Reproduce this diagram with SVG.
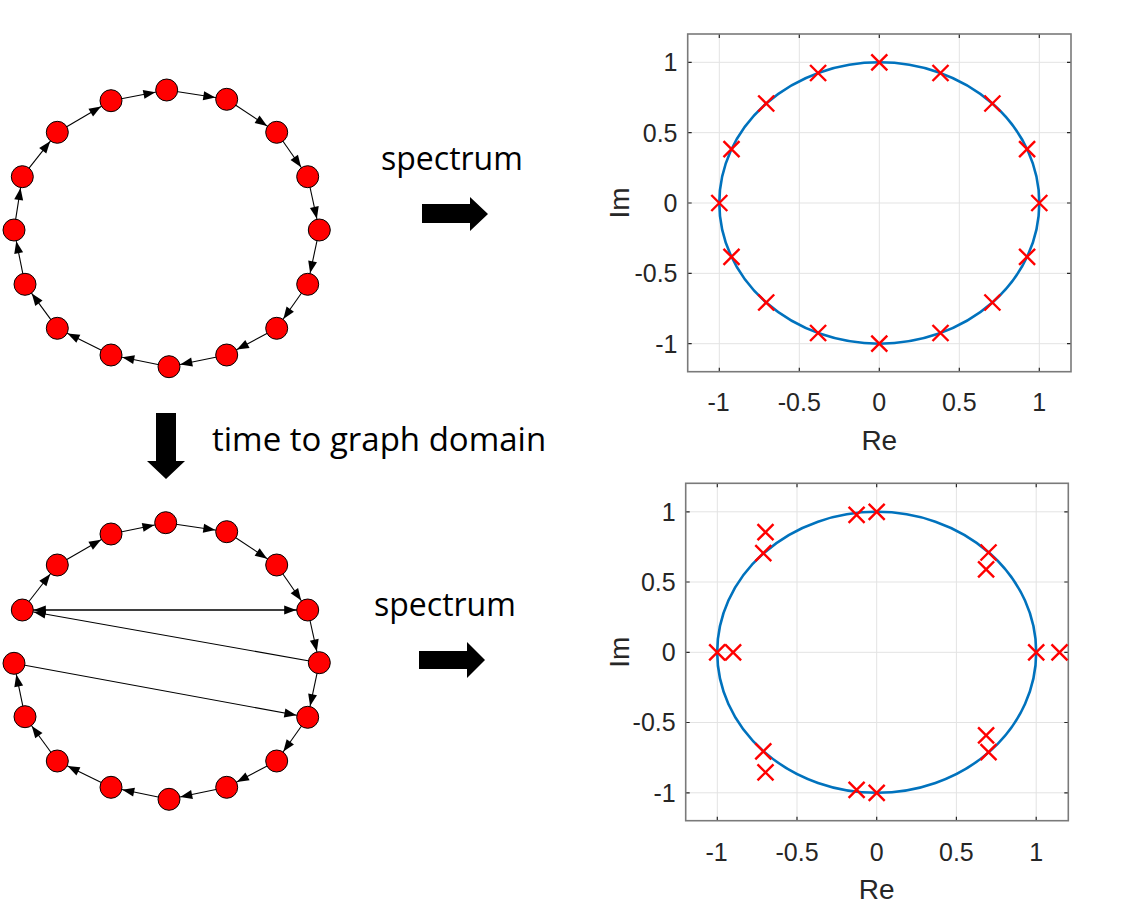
<svg xmlns="http://www.w3.org/2000/svg" width="1121" height="908" viewBox="0 0 1121 908">
<style>
.nd{fill:#ff0000;stroke:#000;stroke-width:1}
.ed{stroke:#000;stroke-width:1.1;fill:none;marker-end:url(#ah)}
.lbl{font-family:"Open Sans","Noto Sans",sans-serif;font-size:32px;fill:#000}
.tk{font-family:"Liberation Sans",Arial,sans-serif;font-size:25px;fill:#262626}
.ax{font-family:"Liberation Sans",Arial,sans-serif;font-size:28px;fill:#262626}
.grid{stroke:#e3e3e3;stroke-width:1}
.box{fill:none;stroke:#7a7a7a;stroke-width:1.6}
.tick{stroke:#262626;stroke-width:1.2}
.uc{fill:none;stroke:#0072BD;stroke-width:2.6}
.xm{stroke:#ff0000;stroke-width:2.4;fill:none}
</style>
<defs>
<marker id="ah" markerUnits="userSpaceOnUse" markerWidth="13" markerHeight="9" refX="23.5" refY="4.5" orient="auto" overflow="visible">
<path d="M0,0 L12,4.5 L0,9 z" fill="#000"/>
</marker>
<path id="x" d="M-8,-8 L8,8 M-8,8 L8,-8"/>
</defs>
<rect width="1121" height="908" fill="#fff"/>

<!-- top graph connectors -->
<g id="edges-top">
<line class="ed" x1="166.7" y1="90" x2="226.7" y2="99.3"/>
<line class="ed" x1="226.7" y1="99.3" x2="276.7" y2="132.3"/>
<line class="ed" x1="276.7" y1="132.3" x2="307.7" y2="176.7"/>
<line class="ed" x1="307.7" y1="176.7" x2="319.3" y2="230"/>
<line class="ed" x1="319.3" y1="230" x2="307.7" y2="284.3"/>
<line class="ed" x1="307.7" y1="284.3" x2="276.7" y2="328.3"/>
<line class="ed" x1="276.7" y1="328.3" x2="226.7" y2="355"/>
<line class="ed" x1="226.7" y1="355" x2="169" y2="366.7"/>
<line class="ed" x1="169" y1="366.7" x2="111" y2="355"/>
<line class="ed" x1="111" y1="355" x2="57.3" y2="328.3"/>
<line class="ed" x1="57.3" y1="328.3" x2="25" y2="284.3"/>
<line class="ed" x1="25" y1="284.3" x2="14" y2="230"/>
<line class="ed" x1="14" y1="230" x2="22.3" y2="176.7"/>
<line class="ed" x1="22.3" y1="176.7" x2="57.3" y2="132.3"/>
<line class="ed" x1="57.3" y1="132.3" x2="111" y2="100.7"/>
<line class="ed" x1="111" y1="100.7" x2="166.7" y2="90"/>
</g>

<!-- bottom graph connectors -->
<g id="edges-bottom">
<line class="ed" x1="165.7" y1="522.7" x2="226.7" y2="531.7"/>
<line class="ed" x1="226.7" y1="531.7" x2="276.7" y2="565"/>
<line class="ed" x1="276.7" y1="565" x2="307.7" y2="610"/>
<line class="ed" x1="307.7" y1="610" x2="319.3" y2="662.7"/>
<line class="ed" x1="319.3" y1="662.7" x2="307.7" y2="717.3"/>
<line class="ed" x1="307.7" y1="717.3" x2="276.7" y2="761"/>
<line class="ed" x1="276.7" y1="761" x2="226.7" y2="787.3"/>
<line class="ed" x1="226.7" y1="787.3" x2="169" y2="799.3"/>
<line class="ed" x1="169" y1="799.3" x2="111" y2="787.3"/>
<line class="ed" x1="111" y1="787.3" x2="57.3" y2="761"/>
<line class="ed" x1="57.3" y1="761" x2="25" y2="716.7"/>
<line class="ed" x1="25" y1="716.7" x2="14" y2="663.3"/>
<line class="ed" x1="22.3" y1="610" x2="57.3" y2="565"/>
<line class="ed" x1="57.3" y1="565" x2="111" y2="534"/>
<line class="ed" x1="111" y1="534" x2="165.7" y2="522.7"/>
<line class="ed" x1="22.3" y1="610" x2="307.7" y2="610"/>
<line class="ed" x1="307.7" y1="610" x2="22.3" y2="610"/>
<line class="ed" x1="319.3" y1="662.7" x2="22.3" y2="610"/>
<line class="ed" x1="14" y1="663.3" x2="307.7" y2="717.3"/>
</g>

<!-- top graph nodes -->
<g id="t1"><circle class="nd" cx="166.7" cy="90" r="11"/></g>
<g id="t2"><circle class="nd" cx="226.7" cy="99.3" r="11"/></g>
<g id="t3"><circle class="nd" cx="276.7" cy="132.3" r="11"/></g>
<g id="t4"><circle class="nd" cx="307.7" cy="176.7" r="11"/></g>
<g id="t5"><circle class="nd" cx="319.3" cy="230" r="11"/></g>
<g id="t6"><circle class="nd" cx="307.7" cy="284.3" r="11"/></g>
<g id="t7"><circle class="nd" cx="276.7" cy="328.3" r="11"/></g>
<g id="t8"><circle class="nd" cx="226.7" cy="355" r="11"/></g>
<g id="t9"><circle class="nd" cx="169" cy="366.7" r="11"/></g>
<g id="t10"><circle class="nd" cx="111" cy="355" r="11"/></g>
<g id="t11"><circle class="nd" cx="57.3" cy="328.3" r="11"/></g>
<g id="t12"><circle class="nd" cx="25" cy="284.3" r="11"/></g>
<g id="t13"><circle class="nd" cx="14" cy="230" r="11"/></g>
<g id="t14"><circle class="nd" cx="22.3" cy="176.7" r="11"/></g>
<g id="t15"><circle class="nd" cx="57.3" cy="132.3" r="11"/></g>
<g id="t16"><circle class="nd" cx="111" cy="100.7" r="11"/></g>

<!-- bottom graph nodes -->
<g id="b1"><circle class="nd" cx="165.7" cy="522.7" r="11"/></g>
<g id="b2"><circle class="nd" cx="226.7" cy="531.7" r="11"/></g>
<g id="b3"><circle class="nd" cx="276.7" cy="565" r="11"/></g>
<g id="b4"><circle class="nd" cx="307.7" cy="610" r="11"/></g>
<g id="b5"><circle class="nd" cx="319.3" cy="662.7" r="11"/></g>
<g id="b6"><circle class="nd" cx="307.7" cy="717.3" r="11"/></g>
<g id="b7"><circle class="nd" cx="276.7" cy="761" r="11"/></g>
<g id="b8"><circle class="nd" cx="226.7" cy="787.3" r="11"/></g>
<g id="b9"><circle class="nd" cx="169" cy="799.3" r="11"/></g>
<g id="b10"><circle class="nd" cx="111" cy="787.3" r="11"/></g>
<g id="b11"><circle class="nd" cx="57.3" cy="761" r="11"/></g>
<g id="b12"><circle class="nd" cx="25" cy="716.7" r="11"/></g>
<g id="b13"><circle class="nd" cx="14" cy="663.3" r="11"/></g>
<g id="b14"><circle class="nd" cx="22.3" cy="610" r="11"/></g>
<g id="b15"><circle class="nd" cx="57.3" cy="565" r="11"/></g>
<g id="b16"><circle class="nd" cx="111" cy="534" r="11"/></g>

<!-- labels and block arrows -->
<g id="label-spectrum-top">
<text class="lbl" x="381" y="169.5">spectrum</text>
<path d="M422,204 H470 V197 L488,214 L470,231 V223 H422 z" fill="#000"/>
</g>
<g id="label-time">
<path d="M156,413 H176 V461 H185 L166,479 L147,461 H156 z" fill="#000"/>
<text class="lbl" x="212" y="451" style="font-size:33px">time to graph domain</text>
</g>
<g id="label-spectrum-bottom">
<text class="lbl" x="374" y="615.5">spectrum</text>
<path d="M419,651 H467 V642 L485,660 L467,678 V669 H419 z" fill="#000"/>
</g>

<!-- top plot -->
<g id="plot-top">
<g class="grid">
<line x1="719.3" y1="34" x2="719.3" y2="371.7"/>
<line x1="799.3" y1="34" x2="799.3" y2="371.7"/>
<line x1="879.3" y1="34" x2="879.3" y2="371.7"/>
<line x1="959.3" y1="34" x2="959.3" y2="371.7"/>
<line x1="1039.3" y1="34" x2="1039.3" y2="371.7"/>
<line x1="687.7" y1="62.3" x2="1071" y2="62.3"/>
<line x1="687.7" y1="132.65" x2="1071" y2="132.65"/>
<line x1="687.7" y1="203" x2="1071" y2="203"/>
<line x1="687.7" y1="273.35" x2="1071" y2="273.35"/>
<line x1="687.7" y1="343.7" x2="1071" y2="343.7"/>
</g>
<g class="tick">
<path d="M719.3,371.7 v-4 M799.3,371.7 v-4 M879.3,371.7 v-4 M959.3,371.7 v-4 M1039.3,371.7 v-4 M719.3,34 v4 M799.3,34 v4 M879.3,34 v4 M959.3,34 v4 M1039.3,34 v4 M687.7,62.3 h4 M687.7,132.65 h4 M687.7,203 h4 M687.7,273.35 h4 M687.7,343.7 h4 M1071,62.3 h-4 M1071,132.65 h-4 M1071,203 h-4 M1071,273.35 h-4 M1071,343.7 h-4"/>
</g>
<rect class="box" x="687.7" y="34" width="383.3" height="337.7"/>
<ellipse class="uc" cx="879.3" cy="203" rx="160" ry="140.7"/>
<g class="xm" transform="translate(879.3,203)">
<use href="#x" x="160" y="0"/>
<use href="#x" x="147.8" y="-53.8"/>
<use href="#x" x="113.1" y="-99.5"/>
<use href="#x" x="61.2" y="-130"/>
<use href="#x" x="0" y="-140.7"/>
<use href="#x" x="-61.2" y="-130"/>
<use href="#x" x="-113.1" y="-99.5"/>
<use href="#x" x="-147.8" y="-53.8"/>
<use href="#x" x="-160" y="0"/>
<use href="#x" x="-147.8" y="53.8"/>
<use href="#x" x="-113.1" y="99.5"/>
<use href="#x" x="-61.2" y="130"/>
<use href="#x" x="0" y="140.7"/>
<use href="#x" x="61.2" y="130"/>
<use href="#x" x="113.1" y="99.5"/>
<use href="#x" x="147.8" y="53.8"/>
</g>
<g class="tk" text-anchor="middle">
<text x="718.5" y="411">-1</text>
<text x="799.3" y="411">-0.5</text>
<text x="879.3" y="411">0</text>
<text x="959.3" y="411">0.5</text>
<text x="1039.3" y="411">1</text>
</g>
<g class="tk" text-anchor="end">
<text x="677.5" y="71.3">1</text>
<text x="677.5" y="141.6">0.5</text>
<text x="677.5" y="212">0</text>
<text x="677.5" y="282.3">-0.5</text>
<text x="677.5" y="352.7">-1</text>
</g>
<text class="ax" x="879.3" y="449.5" text-anchor="middle">Re</text>
<text class="ax" transform="translate(628.5,203) rotate(-90)" text-anchor="middle">Im</text>
</g>

<!-- bottom plot -->
<g id="plot-bottom">
<g class="grid">
<line x1="717.3" y1="483.3" x2="717.3" y2="820.7"/>
<line x1="797" y1="483.3" x2="797" y2="820.7"/>
<line x1="876.7" y1="483.3" x2="876.7" y2="820.7"/>
<line x1="956.4" y1="483.3" x2="956.4" y2="820.7"/>
<line x1="1036.2" y1="483.3" x2="1036.2" y2="820.7"/>
<line x1="685.7" y1="511.8" x2="1068.3" y2="511.8"/>
<line x1="685.7" y1="582" x2="1068.3" y2="582"/>
<line x1="685.7" y1="652.3" x2="1068.3" y2="652.3"/>
<line x1="685.7" y1="722.5" x2="1068.3" y2="722.5"/>
<line x1="685.7" y1="792.8" x2="1068.3" y2="792.8"/>
</g>
<g class="tick">
<path d="M717.3,820.7 v-4 M797,820.7 v-4 M876.7,820.7 v-4 M956.4,820.7 v-4 M1036.2,820.7 v-4 M717.3,483.3 v4 M797,483.3 v4 M876.7,483.3 v4 M956.4,483.3 v4 M1036.2,483.3 v4 M685.7,511.8 h4 M685.7,582 h4 M685.7,652.3 h4 M685.7,722.5 h4 M685.7,792.8 h4 M1068.3,511.8 h-4 M1068.3,582 h-4 M1068.3,652.3 h-4 M1068.3,722.5 h-4 M1068.3,792.8 h-4"/>
</g>
<rect class="box" x="685.7" y="483.3" width="382.6" height="337.4"/>
<ellipse class="uc" cx="876.7" cy="652.3" rx="159.5" ry="140.5"/>
<g class="xm" transform="translate(876.7,652.3)">
<use href="#x" x="-159.5" y="0"/>
<use href="#x" x="-143.6" y="0"/>
<use href="#x" x="159.5" y="0"/>
<use href="#x" x="182.8" y="0"/>
<use href="#x" x="-20.1" y="-137.5"/>
<use href="#x" x="0" y="-140.5"/>
<use href="#x" x="-20.1" y="137.5"/>
<use href="#x" x="0" y="140.5"/>
<use href="#x" x="-113.4" y="-99.1"/>
<use href="#x" x="-111.2" y="-120.1"/>
<use href="#x" x="-113.4" y="99.1"/>
<use href="#x" x="-111.2" y="120.1"/>
<use href="#x" x="111.8" y="-99.8"/>
<use href="#x" x="109.4" y="-83"/>
<use href="#x" x="109.4" y="83"/>
<use href="#x" x="111.8" y="99.8"/>
</g>
<g class="tk" text-anchor="middle">
<text x="716.5" y="860.5">-1</text>
<text x="797" y="860.5">-0.5</text>
<text x="876.7" y="860.5">0</text>
<text x="956.4" y="860.5">0.5</text>
<text x="1036.2" y="860.5">1</text>
</g>
<g class="tk" text-anchor="end">
<text x="675.7" y="520.7">1</text>
<text x="675.7" y="590.9">0.5</text>
<text x="675.7" y="661.2">0</text>
<text x="675.7" y="731.4">-0.5</text>
<text x="675.7" y="801.7">-1</text>
</g>
<text class="ax" x="876.7" y="898.5" text-anchor="middle">Re</text>
<text class="ax" transform="translate(628.5,652.3) rotate(-90)" text-anchor="middle">Im</text>
</g>
</svg>
